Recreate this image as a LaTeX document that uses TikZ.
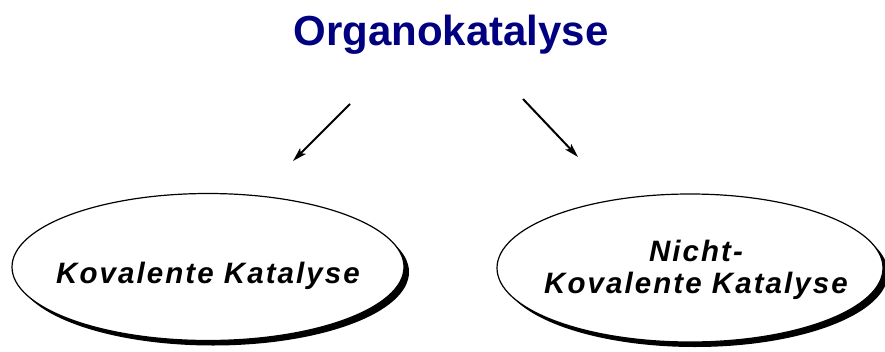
\documentclass[tikz,border=0pt]{standalone}
\usepackage{fontspec}
\setmainfont{Liberation Sans}
\newfontfamily\catfont[LetterSpace=7]{Liberation Sans}
\usepackage{xcolor}
\colorlet{colorTitle}{blue!50!black}
\colorlet{colorArrow}{black}
\usetikzlibrary{arrows.meta, shapes.geometric, shadows}
\tikzset{catalysis/.style={ellipse, draw, line width=1.2pt, fill=white, inner sep=0pt,
  drop shadow={shadow xshift=5pt, shadow yshift=-5pt, opacity=1, fill=black}},
  catalysis text/.style={align=center, inner sep=0pt}}

\begin{document}
\begin{tikzpicture}[x=1pt, y=-1pt, >={Stealth[length=14pt, width=8pt, inset=3pt]}, line width=2pt]
\useasboundingbox (0,0) rectangle (885,351);
\node[anchor=base, text=colorTitle, font=\fontsize{42}{50}\selectfont\bfseries] (org) at (451,45) {Organokatalyse};
\node[catalysis, minimum width=392pt, minimum height=147pt] (kov) at (208,267) {};
\node[catalysis, minimum width=386pt, minimum height=148pt] (nkov) at (690,268) {};
\node[catalysis text, anchor=base, font=\catfont\fontsize{29.5}{32}\selectfont\bfseries\itshape] (kovText) at (208,283) {Kovalente Katalyse};
\node[catalysis text, anchor=base, font=\catfont\fontsize{29.5}{32}\selectfont\bfseries\itshape] (nkovText) at (696,293) {Nicht-\\Kovalente Katalyse};
\coordinate (kovTail) at (350,104);
\coordinate (kovTip) at (293,161);
\coordinate (nkovTail) at (523,99);
\coordinate (nkovTip) at (578,157);
\draw [->, colorArrow] (kovTail) -- (kovTip);
\draw [->, colorArrow] (nkovTail) -- (nkovTip);
\end{tikzpicture}
\end{document}
